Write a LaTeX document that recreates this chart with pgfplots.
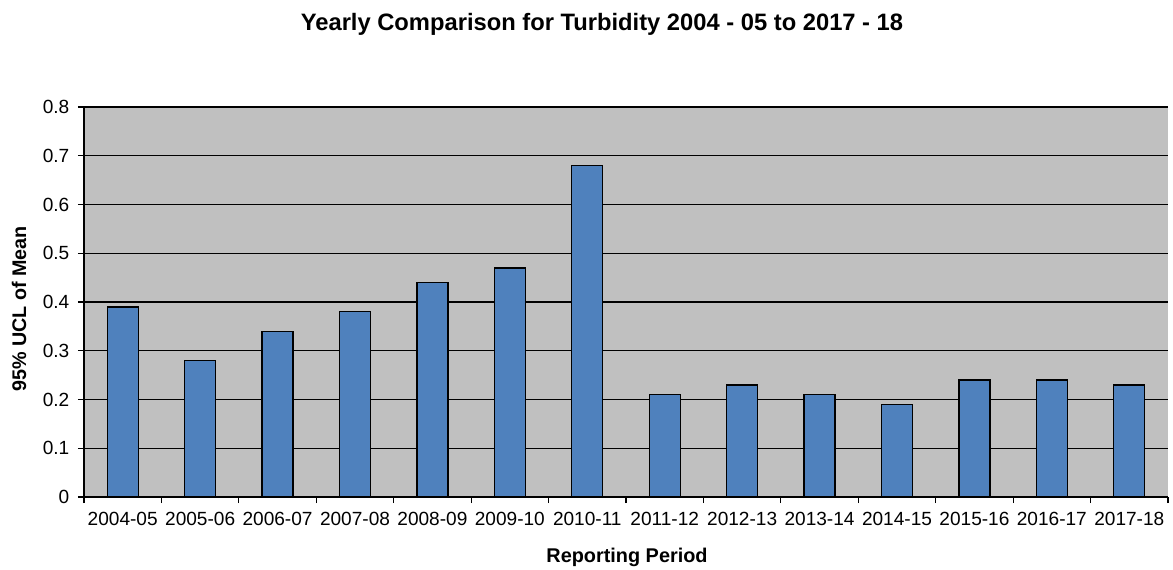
\documentclass[border=0pt]{standalone}
\usepackage{pgfplots}
\pgfplotsset{compat=1.18}
\usepackage{fontspec}
\setmainfont{Liberation Sans}
\definecolor{barblue}{RGB}{79,129,189}
\definecolor{plotbg}{RGB}{192,192,192}
\begin{document}
\begin{tikzpicture}
\useasboundingbox (-63pt,-54pt) rectangle (816.75pt,372.75pt);
\begin{axis}[
  at={(0,0)}, anchor=south west,
  scale only axis,
  width=813pt, height=292.5pt,
  xmin=-0.5, xmax=13.5,
  ymin=0, ymax=0.8,
  ytick={0,0.1,0.2,0.3,0.4,0.5,0.6,0.7,0.8},
  yticklabels={0,0.1,0.2,0.3,0.4,0.5,0.6,0.7,0.8},
  xtick={0,...,13},
  xticklabels={2004-05,2005-06,2006-07,2007-08,2008-09,2009-10,2010-11,2011-12,2012-13,2013-14,2014-15,2015-16,2016-17,2017-18},
  minor xtick={-0.5,0.5,...,13.5},
  major x tick style={draw=none},
  minor x tick style={black, line width=0.8pt},
  y tick style={black, line width=0.8pt},
  tick align=outside,
  major tick length=4.5pt,
  minor tick length=4.5pt,
  axis x line*=bottom,
  axis y line*=left,
  axis line style={black, line width=0.8pt},
  axis background/.style={fill=plotbg},
  ymajorgrids,
  grid style={black, line width=0.9pt},
  tick label style={font=\fontsize{14.3pt}{16pt}\selectfont, black},
  xticklabel style={yshift=-3pt},
  yticklabel style={xshift=-3pt},
  ybar, bar width=23.25pt,
]
\addplot[ybar, fill=barblue, draw=black, line width=1pt] coordinates {(0,0.39) (1,0.28) (2,0.34) (3,0.38) (4,0.44) (5,0.47) (6,0.68) (7,0.21) (8,0.23) (9,0.21) (10,0.19) (11,0.24) (12,0.24) (13,0.23)};
\end{axis}
\node[font=\bfseries\fontsize{17.8pt}{20pt}\selectfont] at (388.5pt,354.5pt) {Yearly Comparison for Turbidity 2004 - 05 to 2017 - 18};
\node[font=\bfseries\fontsize{14.9pt}{17pt}\selectfont] at (407.25pt,-45pt) {Reporting Period};
\node[font=\bfseries\fontsize{14.8pt}{17pt}\selectfont, rotate=90] at (-48.75pt,141pt) {95\% UCL of Mean};
\end{tikzpicture}
\end{document}
